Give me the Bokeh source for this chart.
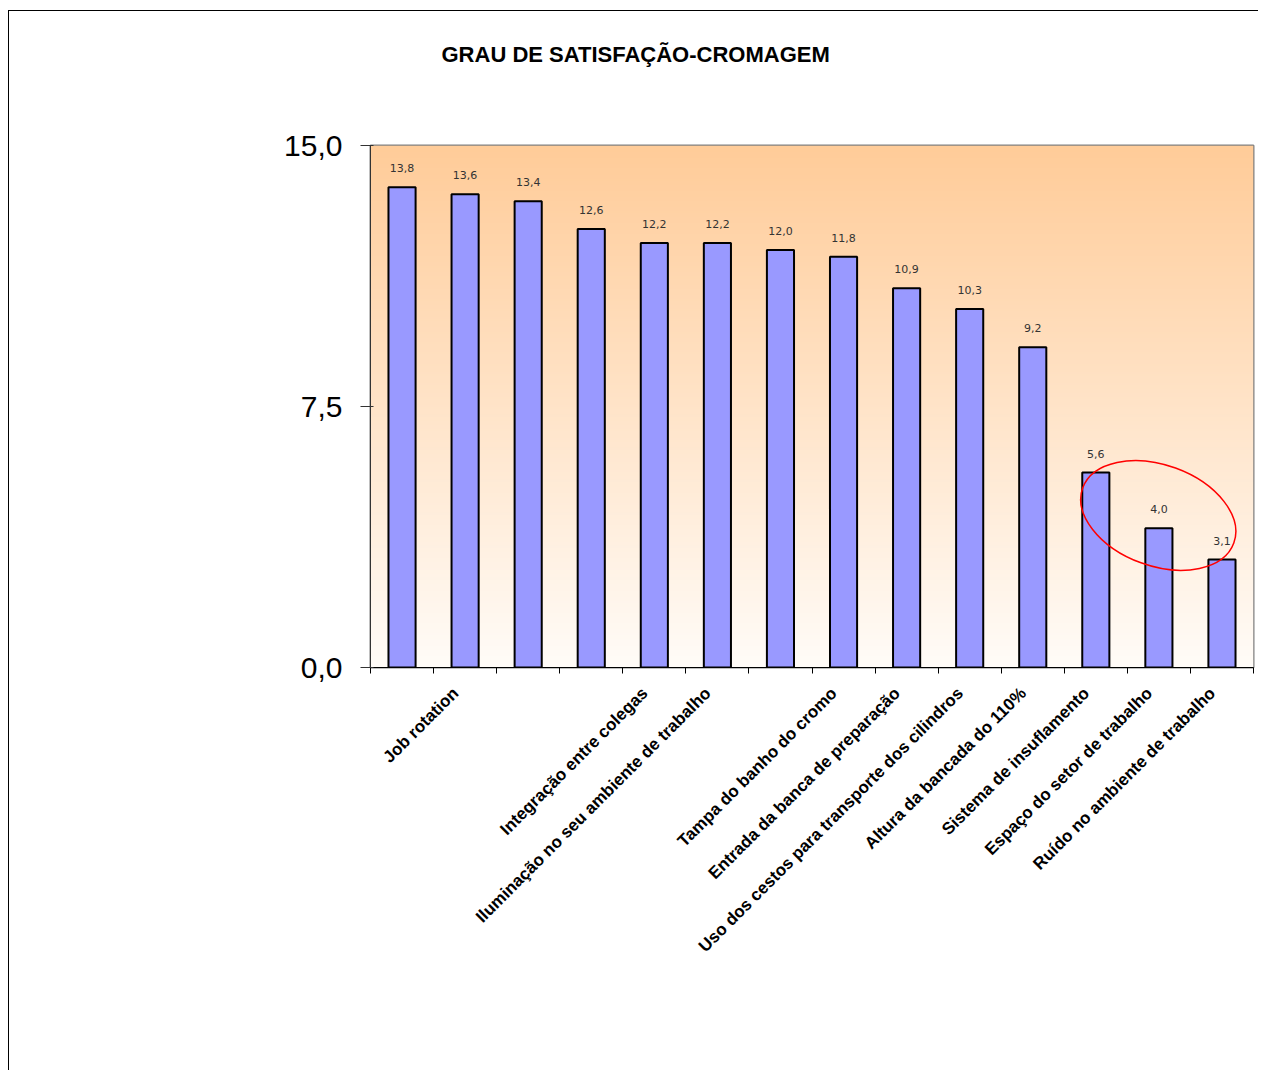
import numpy as np
from bokeh.plotting import figure
from bokeh.models import FixedTicker, LinearAxis, Title
from bokeh.core.properties import value
from bokeh.embed import file_html
from bokeh.resources import INLINE

title_text = "GRAU DE SATISFAÇÃO-CROMAGEM"
categories = [
    "",
    "Job rotation",
    "",
    "",
    "Integração entre colegas",
    "Iluminação no seu ambiente de trabalho",
    "",
    "Tampa do banho do cromo",
    "Entrada da banca de preparação",
    "Uso dos cestos para transporte dos cilindros",
    "Altura da bancada do 110%",
    "Sistema de insuflamento",
    "Espaço do setor de trabalho",
    "Ruído no ambiente de trabalho",
]
scores = [13.8, 13.6, 13.4, 12.6, 12.2, 12.2, 12.0, 11.8, 10.9, 10.3, 9.2, 5.6, 4.0, 3.1]
y_ticks = [0.0, 7.5, 15.0]
y_tick_labels = ["0,0", "7,5", "15,0"]

# highlight ellipse (hand-drawn circle around the lowest scores)
circle_x, circle_y, circle_w, circle_h, circle_angle = 12.99, 4.37, 2.55, 2.9, -0.35

n = len(scores)
xs = list(range(1, n + 1))

p = figure(width=1250, height=1060, output_backend="svg", toolbar_location=None,
           title=None,
           x_range=(0.5, n + 0.5), y_range=(0, 15),
           min_border_left=361, min_border_right=6, min_border_top=134, min_border_bottom=404,
           x_axis_type=None, y_axis_type=None)
p.styles = {"border-top": "1px solid #000000", "border-left": "1px solid #000000",
            "margin-left": "8px", "margin-top": "10px"}
p.background_fill_color = "white"
p.border_fill_color = "white"
p.outline_line_color = "#808080"
p.outline_line_width = 2

# invisible spacer between the plot area and the title
spacer_tick = [n / 2 + 0.5]
spacer = LinearAxis(ticker=FixedTicker(ticks=spacer_tick, minor_ticks=[]))
spacer.axis_line_color = None
spacer.major_tick_line_color = None
spacer.minor_tick_line_color = None
spacer.major_tick_out = 79
spacer.major_tick_in = 0
spacer.major_label_standoff = 0
spacer.major_label_overrides = {spacer_tick[0]: ""}
spacer.major_label_text_font_size = "1px"
p.add_layout(spacer, "above")

title = Title(text=title_text, text_font="Liberation Sans", text_font_style="bold",
              text_font_size="22px", align="left", offset=71, standoff=0, text_color="black")
p.add_layout(title, "above")

# gradient background of the plot area
N = 256
top = np.array([255, 204, 153])
bot = np.array([255, 252, 248])
t = np.linspace(0, 1, N)[:, None]
cols = (bot * (1 - t) + top * t).astype(np.uint32)
img = np.empty((N, 1), dtype=np.uint32)
view = img.view(dtype=np.uint8).reshape((N, 1, 4))
view[:, 0, 0] = cols[:, 0]
view[:, 0, 1] = cols[:, 1]
view[:, 0, 2] = cols[:, 2]
view[:, 0, 3] = 255
p.image_rgba(image=[img], x=0.5, y=0, dw=n, dh=15, level="image")

# axes (labels anchored slightly left of the bar centres, as in the original)
label_pos = [i - 0.15 for i in xs]
xaxis = LinearAxis(ticker=FixedTicker(ticks=label_pos, minor_ticks=[i + 0.5 for i in range(0, n + 1)]))
xaxis.major_label_overrides = {pos: c for pos, c in zip(label_pos, categories)}
xaxis.major_label_orientation = np.pi / 4
xaxis.major_tick_out = 0
xaxis.major_tick_in = 0
xaxis.major_tick_line_color = None
xaxis.minor_tick_out = 6
xaxis.minor_tick_in = 0
xaxis.minor_tick_line_color = "black"
xaxis.axis_line_color = "black"
xaxis.axis_line_width = 1
xaxis.major_label_standoff = 17
xaxis.major_label_text_font = "Liberation Sans"
xaxis.major_label_text_font_size = "17px"
xaxis.major_label_text_font_style = "bold"
xaxis.major_label_text_color = "black"
p.add_layout(xaxis, "below")

yaxis = LinearAxis(ticker=FixedTicker(ticks=y_ticks, minor_ticks=[]))
yaxis.major_label_overrides = {v: s for v, s in zip(y_ticks, y_tick_labels)}
yaxis.major_tick_out = 10
yaxis.major_tick_in = 3
yaxis.major_tick_line_color = "#333333"
yaxis.axis_line_color = "#333333"
yaxis.major_label_standoff = 18
yaxis.major_label_text_font = "Liberation Sans"
yaxis.major_label_text_font_size = "30px"
yaxis.major_label_text_color = "black"
p.add_layout(yaxis, "left")

p.xgrid.visible = False
p.ygrid.ticker = FixedTicker(ticks=[7.5])
p.ygrid.grid_line_color = "black"
p.ygrid.grid_line_width = 1
p.ygrid.grid_line_alpha = 1

p.vbar(x=xs, top=scores, width=0.43, fill_color="#9999FF", line_color="black", line_width=2)

p.text(x=xs, y=scores, text=[f"{v:.1f}".replace(".", ",") for v in scores],
       text_font=value("DejaVu Sans"), text_font_size="11px", text_color="#333333",
       text_align="center", text_baseline="alphabetic", y_offset=-19)

p.ellipse(x=[circle_x], y=[circle_y], width=[circle_w], height=[circle_h], angle=[circle_angle],
          fill_color=None, line_color="red", line_width=1.5)

open("out.html", "w").write(file_html(p, INLINE))
